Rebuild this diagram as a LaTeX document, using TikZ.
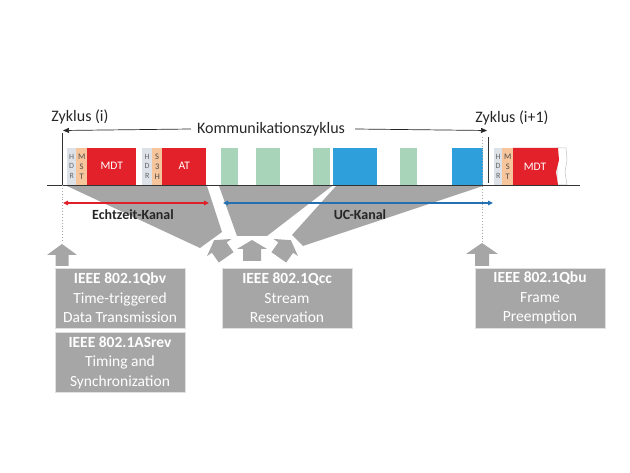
\documentclass[tikz,border=0pt]{standalone}
\usepackage{fontspec}
\setmainfont{Carlito}
\usetikzlibrary{arrows.meta}
\definecolor{fgray}{HTML}{A6A6A6}
\definecolor{fred}{HTML}{E3212B}
\definecolor{fgreen}{HTML}{A8D5BA}
\definecolor{fblue}{HTML}{2E9FDB}
\definecolor{hdrc}{HTML}{DDE2E8}
\definecolor{mstc}{HTML}{F6C59B}
\definecolor{txt}{HTML}{262626}
\definecolor{ared}{HTML}{E02028}
\definecolor{ablue}{HTML}{2470B3}
\begin{document}
\begin{tikzpicture}[x=1pt,y=-1pt,
  fr/.style={inner sep=0pt, anchor=south west, minimum height=37pt},
  hdr/.style={fr, fill=hdrc, text=black!60, align=center, font=\fontsize{8}{9.5}\selectfont},
  mst/.style={fr, fill=mstc, text=black!70, align=center, font=\fontsize{8.5}{10}\selectfont},
  data/.style={fr, fill=fred, text=white, font=\fontsize{11.5}{13}\selectfont},
  grn/.style={fr, fill=fgreen},
  blu/.style={fr, fill=fblue},
  lab/.style={inner sep=0pt, text=txt, font=\fontsize{16}{18}\selectfont},
  kanal/.style={inner sep=0pt, text=txt, font=\bfseries\fontsize{14}{16}\selectfont},
  sbox/.style={fill=fgray, draw=black!12, line width=0.8pt, text=white, align=center,
     minimum width=130pt, minimum height=60pt, inner sep=0pt,
     font=\fontsize{15.5}{19.5}\selectfont},
  tip/.style={-{Triangle[length=6pt,width=5pt]}},
]
\useasboundingbox (0,0) rectangle (630,473);

% gray funnels
\fill[fgray] (67,186) -- (207,186) -- (222,232) -- (200,248) -- cycle;
\fill[fgray] (219,186) -- (332,186) -- (267,236) -- (237,236) -- cycle;
\fill[fgray] (336,186) -- (483,186) -- (303,246) -- (292,235) -- cycle;

% frames
\node[hdr, minimum width=9pt] (h1) at (67,185) {H\\D\\R};
\node[mst, minimum width=11pt] (m1) at (76,185) {M\\S\\T};
\node[data, minimum width=49pt] (mdt1) at (87,185) {MDT};
\node[hdr, minimum width=10pt] (h2) at (142,185) {H\\D\\R};
\node[mst, minimum width=10pt] (s3h) at (152,185) {S\\3\\H};
\node[data, minimum width=44pt] (at) at (162,185) {AT};
\node[grn, minimum width=17pt] (g1) at (221,185) {};
\node[grn, minimum width=24pt] (g2) at (256,185) {};
\node[grn, minimum width=17pt] (g3) at (313,185) {};
\node[blu, minimum width=44pt] (b1) at (333,185) {};
\node[grn, minimum width=17pt] (g4) at (400,185) {};
\node[blu, minimum width=31pt] (b2) at (452,185) {};
\node[hdr, minimum width=8pt] (h3) at (494,185) {H\\D\\R};
\node[mst, minimum width=11pt] (m3) at (502,185) {M\\S\\T};
\fill[white, draw=black!25, line width=0.5pt] (557,148) -- (566,148) -- (567,160) -- (565,172) -- (567,185) -- (557,185) -- cycle;
\fill[fred] (513,148) -- (558,148) -- (559,160) -- (556,172) -- (558,185) -- (513,185) -- cycle;
\node[text=white, font=\fontsize{11.5}{13}\selectfont, inner sep=0pt] (mdt3) at (535,166.5) {MDT};

% baseline
\coordinate (bl0) at (47,185);
\coordinate (bl1) at (580,185);
\draw[black!80, line width=0.8pt] (bl0) -- (bl1);

% cycle markers
\coordinate (l0) at (62,133);
\coordinate (l1) at (62,185);
\coordinate (l2) at (62,243);
\draw[black!80, line width=0.7pt] (l0) -- (l1);
\draw[black!35, line width=0.9pt, dotted] (l1) -- (l2);
\coordinate (r0) at (488,137);
\coordinate (r1) at (488,183);
\draw[black!80, line width=0.7pt] (r0) -- (r1);
\coordinate (d0) at (482,137);
\coordinate (d1) at (482,243);
\draw[black!35, line width=0.9pt, dotted] (d0) -- (d1);

% titles
\node[lab] (zi) at (80,117) {Zyklus (i)};
\node[lab] (kz) at (271,129) {Kommunikationszyklus};
\node[lab] (zi1) at (512,118) {Zyklus (i+1)};
\coordinate (ka) at (63,130.5);
\coordinate (kb) at (487,130.5);
\draw[tip, black!85, line width=0.7pt] ([xshift=-6pt]kz.west) -- (ka);
\draw[tip, black!85, line width=0.7pt] ([xshift=10pt]kz.east) -- (kb);

% channels
\coordinate (e0) at (63,203);
\coordinate (e1) at (209,203);
\coordinate (u0) at (223,203);
\coordinate (u1) at (493,203);
\draw[ared, line width=1.1pt, {Triangle[length=5pt,width=4.5pt]}-{Triangle[length=5pt,width=4.5pt]}] (e0) -- (e1);
\draw[ablue, line width=1.1pt, {Triangle[length=5pt,width=4.5pt]}-{Triangle[length=5pt,width=4.5pt]}] (u0) -- (u1);
\node[kanal] (ek) at (133,215) {Echtzeit-Kanal};
\node[kanal] (uk) at (360,215) {UC-Kanal};

% block arrows
\def\blockarrow{(0,-12) -- (15,-3) -- (9,-3) -- (9,9) -- (-9,9) -- (-9,-3) -- (-15,-3) -- cycle}
\fill[fgray, shift={(221,250)}, rotate=35] \blockarrow;
\fill[fgray, shift={(252,252)}] \blockarrow;
\fill[fgray, shift={(284,250)}, rotate=-35] \blockarrow;
\fill[fgray] (62,244) -- (77,255) -- (68.5,255) -- (68.5,266) -- (55.5,266) -- (55.5,255) -- (47,255) -- cycle;
\fill[fgray] (482,243) -- (498,254) -- (489,254) -- (489,266) -- (475,266) -- (475,254) -- (466,254) -- cycle;

% standard boxes
\node[sbox] (qbv) at (120,298) {\textbf{IEEE 802.1Qbv}\\Time-triggered\\Data Transmission};
\node[sbox] (asrev) at (120,362.5) {\textbf{IEEE 802.1ASrev}\\Timing and\\Synchronization};
\node[sbox] (qcc) at (287,298) {\textbf{IEEE 802.1Qcc}\\Stream\\Reservation};
\node[sbox] (qbu) at (540,298) {\textbf{IEEE 802.1Qbu}\\Frame\\Preemption};
\end{tikzpicture}
\end{document}
